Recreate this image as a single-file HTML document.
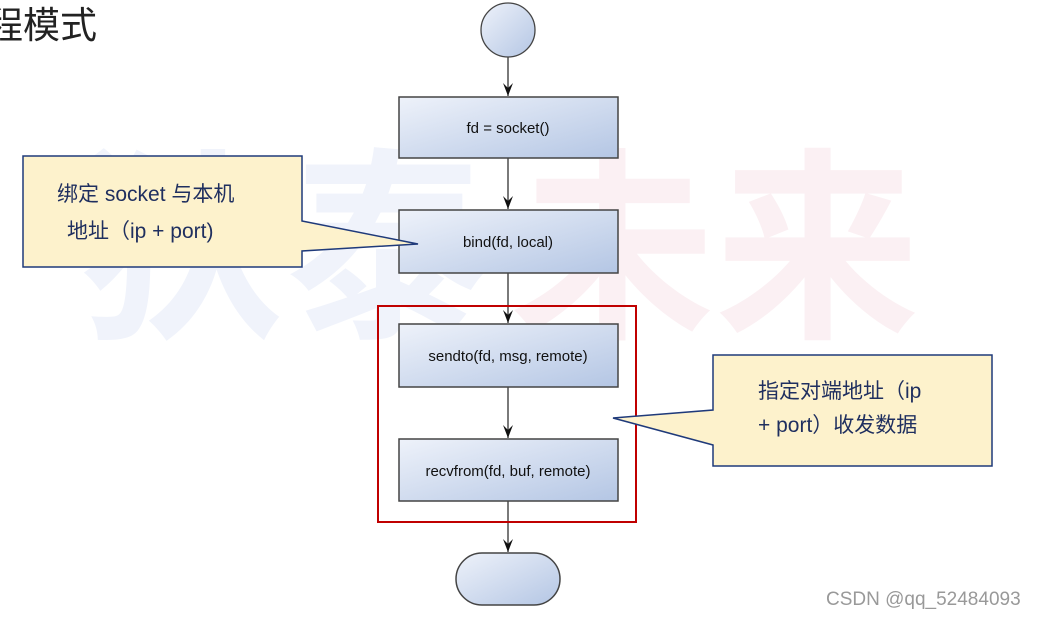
<!DOCTYPE html>
<html><head><meta charset="utf-8"><style>
html,body{margin:0;padding:0;background:#fff;}
svg{display:block;}
</style></head><body>
<svg width="1040" height="618" viewBox="0 0 1040 618" xmlns="http://www.w3.org/2000/svg">
<defs>
<linearGradient id="g" x1="0" y1="0" x2="1" y2="1">
<stop offset="0" stop-color="#eef2fa"/><stop offset="1" stop-color="#b4c6e4"/>
</linearGradient>
<marker id="a" markerWidth="14" markerHeight="10" refX="13" refY="5" orient="auto" markerUnits="userSpaceOnUse">
<path d="M0,0 L13,5 L0,10 L5,5 Z" fill="#111"/>
</marker>
</defs>
<g font-family="'Liberation Sans','Noto Sans CJK SC',sans-serif" font-size="205" font-weight="bold">
<text x="80" y="322" fill="#f0f3fb">狄泰</text>
<text x="510" y="322" fill="#fbf0f3">未来</text>
</g>
<text x="-14" y="38" font-family="'Liberation Sans','Noto Sans CJK SC',sans-serif" font-size="37" fill="#222">程模式</text>
<g stroke="#333" stroke-width="1.3" fill="none">
<line x1="508" y1="57" x2="508" y2="96" marker-end="url(#a)"/>
<line x1="508" y1="158" x2="508" y2="209" marker-end="url(#a)"/>
<line x1="508" y1="273" x2="508" y2="323" marker-end="url(#a)"/>
<line x1="508" y1="387" x2="508" y2="438" marker-end="url(#a)"/>
<line x1="508" y1="501" x2="508" y2="552" marker-end="url(#a)"/>
</g>
<ellipse cx="508" cy="30" rx="27" ry="27" fill="url(#g)" stroke="#444" stroke-width="1.3"/>
<g fill="url(#g)" stroke="#444" stroke-width="1.5">
<rect x="399" y="97" width="219" height="61"/>
<rect x="399" y="210" width="219" height="63"/>
<rect x="399" y="324" width="219" height="63"/>
<rect x="399" y="439" width="219" height="62"/>
<rect x="456" y="553" width="104" height="52" rx="26"/>
</g>
<rect x="378" y="306" width="258" height="216" fill="none" stroke="#c00000" stroke-width="2"/>
<g font-family="'Liberation Sans','Noto Sans CJK SC',sans-serif" font-size="15" fill="#111" text-anchor="middle">
<text x="508" y="133">fd = socket()</text>
<text x="508" y="247">bind(fd, local)</text>
<text x="508" y="361">sendto(fd, msg, remote)</text>
<text x="508" y="476">recvfrom(fd, buf, remote)</text>
</g>
<path d="M23,156 L302,156 L302,221 L418,244 L302,251 L302,267 L23,267 Z" fill="#fdf2cc" stroke="#1f3a7a" stroke-width="1.5"/>
<path d="M713,355 L992,355 L992,466 L713,466 L713,445 L613,418 L713,410 Z" fill="#fdf2cc" stroke="#1f3a7a" stroke-width="1.5"/>
<g font-family="'Liberation Sans','Noto Sans CJK SC',sans-serif" font-size="21" fill="#1f2f5f">
<text x="57" y="201">绑定 socket 与本机</text>
<text x="67" y="238">地址（ip + port)</text>
<text x="758" y="398">指定对端地址（ip</text>
<text x="758" y="432">+ port）收发数据</text>
</g>
<text x="826" y="605" font-family="'Liberation Sans',sans-serif" font-size="19" fill="#999">CSDN @qq_52484093</text>
</svg>
</body></html>
